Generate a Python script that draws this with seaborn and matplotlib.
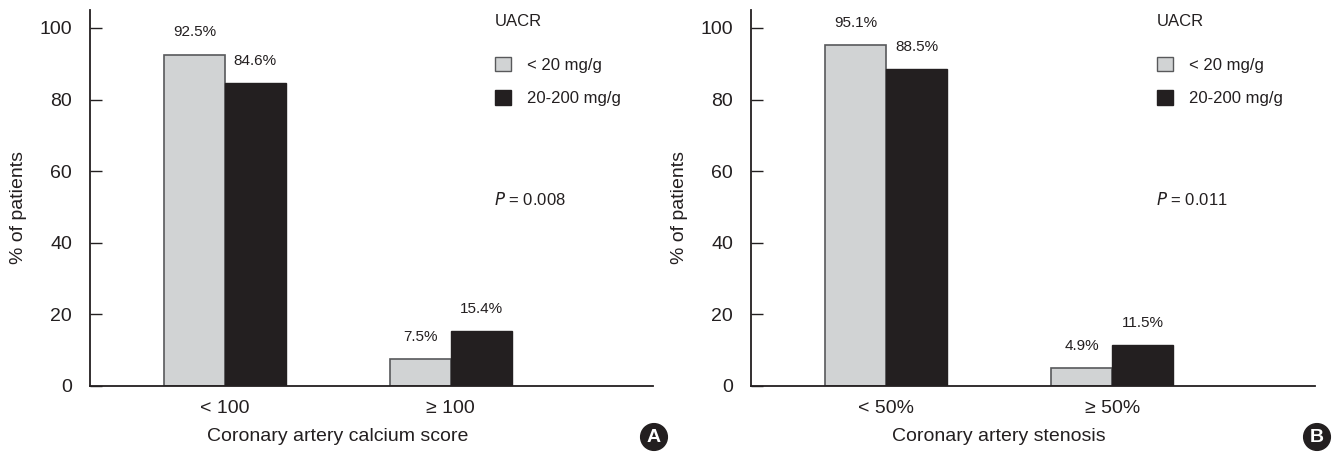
import matplotlib
matplotlib.use("Agg")
import matplotlib.pyplot as plt
import matplotlib.transforms as mtransforms
import seaborn as sns
import pandas as pd
from matplotlib.patches import Patch

# ---- data ----
groups = ["< 20 mg/g", "20-200 mg/g"]
cats_a = ["< 100", "\u2265 100"]
vals_a_low = [92.5, 7.5]
vals_a_high = [84.6, 15.4]
cats_b = ["< 50%", "\u2265 50%"]
vals_b_low = [95.1, 4.9]
vals_b_high = [88.5, 11.5]
xlabel_a = "Coronary artery calcium score"
xlabel_b = "Coronary artery stenosis"
p_a = "0.008"
p_b = "0.011"
yticks = [0, 20, 40, 60, 80, 100]

sns.set_style("white")
FONT = ['Liberation Sans Narrow', 'Liberation Sans', 'DejaVu Sans']
plt.rcParams['font.family'] = FONT

DARK = "#231f20"
LIGHT = "#d1d3d4"
EDGE_L = "#58595b"

W, H = 1337, 453
fig = plt.figure(figsize=(W / 100, H / 100), dpi=100)


def make_df(cats, low, high):
    rows = []
    for c, v in zip(cats, low):
        rows.append({"cat": c, "grp": groups[0], "val": v})
    for c, v in zip(cats, high):
        rows.append({"cat": c, "grp": groups[1], "val": v})
    return pd.DataFrame(rows)


def panel(left_px, right_px, cats, low, high, xlabel, pval, letter, letter_x):
    ax = fig.add_axes([left_px / W, (H - 386) / H, (right_px - left_px) / W, (386 - 10) / H])
    df = make_df(cats, low, high)
    sns.barplot(data=df, x="cat", y="val", hue="grp", order=cats, hue_order=groups,
                palette=[LIGHT, DARK], width=0.54, ax=ax, legend=False,
                edgecolor=DARK, linewidth=1.0, saturation=1)
    for i, patch in enumerate(ax.patches):
        if i < len(cats):
            patch.set_edgecolor(EDGE_L)
            patch.set_linewidth(1.2)
        else:
            patch.set_edgecolor(DARK)
    ax.set_xlim(-0.597, 1.896)
    ax.set_ylim(0, 105)
    ax.set_yticks(yticks)
    for s in ["top", "right"]:
        ax.spines[s].set_visible(False)
    for s in ["left", "bottom"]:
        ax.spines[s].set_color(DARK)
        ax.spines[s].set_linewidth(1.3)
    ax.tick_params(axis="y", direction="in", length=8.5, width=1.0, color=DARK,
                   labelsize=14, pad=13, labelcolor=DARK, left=True)
    ax.tick_params(axis="x", length=0, labelsize=14, pad=10, labelcolor=DARK)
    ax.set_xlabel(xlabel, fontsize=14, color=DARK)
    ax.xaxis.set_label_coords(0.44, -0.112)
    ax.set_ylabel("% of patients", fontsize=14, color=DARK)
    ax.yaxis.set_label_coords(-0.112, 0.476)
    # value labels
    for patch in ax.patches:
        h = patch.get_height()
        ax.annotate(f"{h:.1f}%", (patch.get_x() + patch.get_width() / 2, h),
                    xytext=(0, 11), textcoords="offset points",
                    ha="center", va="bottom", fontsize=11, color=DARK)
    # legend
    handles = [Patch(facecolor=LIGHT, edgecolor=EDGE_L, linewidth=1.0),
               Patch(facecolor=DARK, edgecolor=DARK, linewidth=1.0)]
    leg = ax.legend(handles, groups, title="UACR", loc="upper left",
                    bbox_to_anchor=(0.699, 1.02), frameon=False, fontsize=12,
                    title_fontsize=12, handlelength=0.95, handleheight=0.95,
                    handletextpad=0.95, labelspacing=1.05, borderpad=0.2)
    leg._legend_box.align = "left"
    leg._legend_box.sep = 20
    for t in leg.get_texts():
        t.set_color(DARK)
    leg.get_title().set_color(DARK)
    # P value
    ax.text(0.718, 52.2, "$P$ = " + pval,
            transform=mtransforms.blended_transform_factory(ax.transAxes, ax.transData),
            ha="left", va="center", fontsize=12, color=DARK)
    # panel letter
    fig.text(letter_x / W, 1 - 437 / H, letter, ha="center", va="center",
             fontsize=14, fontweight="bold", color="white",
             family=['Liberation Sans', 'DejaVu Sans'],
             bbox=dict(boxstyle="circle,pad=0.25", fc=DARK, ec=DARK))
    return ax


panel(90, 653, cats_a, vals_a_low, vals_a_high, xlabel_a, p_a, "A", 654)
panel(751, 1315, cats_b, vals_b_low, vals_b_high, xlabel_b, p_b, "B", 1317)

fig.savefig("out.png", dpi=100)
